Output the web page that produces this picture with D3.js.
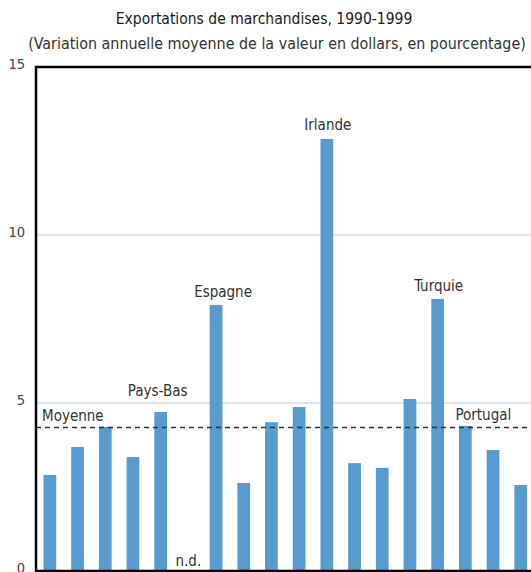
<!DOCTYPE html>
<html><head><meta charset="utf-8">
<script src="https://cdn.jsdelivr.net/npm/d3@7"></script>
<style>
html,body{margin:0;padding:0;background:#fff;overflow:hidden;}
text{font-family:"Liberation Sans Narrow","DejaVu Sans Condensed","Roboto Condensed",sans-serif;}
</style></head>
<body><svg id="c" width="531" height="572"></svg>
<script>
// Data
const categories = ["P1","P2","P3","P4","Pays-Bas","P6","Espagne","P8","P9","P10","Irlande","P12","P13","P14","Turquie","Portugal","P17","P18"];
const values = [2.86, 3.69, 4.29, 3.39, 4.73, null, 7.92, 2.62, 4.43, 4.88, 12.86, 3.21, 3.07, 5.12, 8.10, 4.32, 3.60, 2.56];
const average = 4.27;
const yTicks = [0, 5, 10, 15];
const title = "Exportations de marchandises, 1990-1999";
const subtitle = "(Variation annuelle moyenne de la valeur en dollars, en pourcentage)";
const annotations = [
  {cat: "Pays-Bas", text: "Pays-Bas", dx: -3, dy: -16},
  {cat: "P6", text: "n.d.", dx: 0, dy: -5, atZero: true},
  {cat: "Espagne", text: "Espagne", dx: 7, dy: -8},
  {cat: "Irlande", text: "Irlande", dx: 1, dy: -9},
  {cat: "Turquie", text: "Turquie", dx: 1, dy: -8},
  {cat: "Portugal", text: "Portugal", dx: 18, dy: -6}
];

const svg = d3.select("#c");
const mLeft = 36, mTop = 67, mBottom = 571;
const step = 27.7;
const x = d3.scaleBand().domain(categories).range([mLeft, mLeft + step*categories.length]).paddingInner(0.54).paddingOuter(0.27);
const y = d3.scaleLinear().domain([0, 15]).range([mBottom, mTop]);

// titles
svg.append("text").attr("x", 264).attr("y", 24).attr("text-anchor","middle")
  .attr("font-size", 15.5).attr("fill", "#1a1a1a").text(title);
svg.append("text").attr("x", 277).attr("y", 49).attr("text-anchor","middle")
  .attr("font-size", 15.9).attr("fill", "#333").text(subtitle);

// gridlines
svg.append("g").selectAll("line").data(yTicks.filter(d => d > 0 && d < 15)).join("line")
  .attr("x1", mLeft).attr("x2", 531).attr("y1", d => y(d)).attr("y2", d => y(d))
  .attr("stroke", "#dce6f1").attr("stroke-width", 2);

// y axis labels
const yAxis = d3.axisLeft(y).tickValues(yTicks).tickSize(0).tickPadding(11);
const ga = svg.append("g").attr("transform", `translate(${mLeft},0)`).call(yAxis);
ga.select(".domain").remove();
ga.selectAll("text").attr("font-size", 14.5).attr("fill", "#444")
  .attr("font-family", "'Liberation Sans Narrow','DejaVu Sans Condensed',sans-serif")
  .attr("dy", "0.1em");

// bars
svg.append("g").selectAll("rect").data(categories.map((c,i)=>({c, v: values[i]})).filter(d => d.v != null)).join("rect")
  .attr("x", d => x(d.c)).attr("width", x.bandwidth())
  .attr("y", d => y(d.v)).attr("height", d => y(0) - y(d.v))
  .attr("fill", "#579bcf");

// average dashed line
svg.append("line").attr("x1", mLeft).attr("x2", 531).attr("y1", y(average)).attr("y2", y(average))
  .attr("stroke", "#333").attr("stroke-width", 1.5).attr("stroke-dasharray", "5,4");
svg.append("text").attr("x", mLeft + 6).attr("y", y(average) - 7).attr("font-size", 15).attr("fill", "#333").text("Moyenne");

// annotations
const vByCat = new Map(categories.map((c,i)=>[c, values[i]]));
svg.append("g").selectAll("text").data(annotations).join("text")
  .attr("x", d => x(d.cat) + x.bandwidth()/2 + d.dx)
  .attr("y", d => (d.atZero ? y(0) : y(vByCat.get(d.cat))) + d.dy)
  .attr("text-anchor", "middle").attr("font-size", 15).attr("fill", "#333")
  .text(d => d.text);

// frame
svg.append("path").attr("d", `M531,${mTop}H${mLeft}V${mBottom}H531`)
  .attr("fill", "none").attr("stroke", "#000").attr("stroke-width", 2.5);
</script></body></html>
